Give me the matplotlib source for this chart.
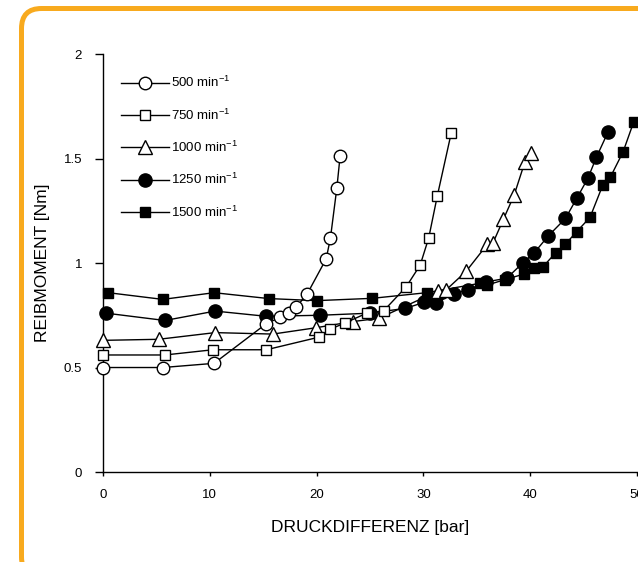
# reibmoment.py
# Reibmoment ueber Druckdifferenz bei verschiedenen Drehzahlen

import matplotlib.pyplot as plt
from matplotlib.patches import FancyBboxPatch

plt.rcParams['font.family'] = ['Liberation Sans', 'DejaVu Sans']
plt.rcParams['mathtext.fontset'] = 'custom'
plt.rcParams['mathtext.rm'] = 'Liberation Sans'
plt.rcParams['mathtext.it'] = 'Liberation Sans:italic'

x_500 = [0, 5.6, 10.4, 15.3, 16.6, 17.4, 18.1, 19.1, 20.9, 21.3, 21.9, 22.2]
y_500 = [0.50, 0.50, 0.52, 0.71, 0.74, 0.76, 0.79, 0.85, 1.02, 1.12, 1.36, 1.51]

x_750 = [0, 5.8, 10.3, 15.3, 20.2, 21.3, 22.7, 24.7, 26.3, 28.4, 29.7, 30.5, 31.3, 32.6]
y_750 = [0.56, 0.56, 0.585, 0.585, 0.645, 0.684, 0.714, 0.76, 0.772, 0.887, 0.99, 1.12, 1.32, 1.62]

x_1000 = [0, 5.2, 10.5, 15.9, 19.9, 23.4, 25.8, 31.4, 32.1, 34.0, 36.0, 36.5, 37.5, 38.5, 39.5, 40.1]
y_1000 = [0.63, 0.635, 0.667, 0.66, 0.69, 0.72, 0.735, 0.866, 0.87, 0.96, 1.09, 1.094, 1.21, 1.325, 1.483, 1.525]

x_1250 = [0.3, 5.8, 10.5, 15.3, 20.3, 25.0, 28.3, 30.1, 31.2, 32.9, 34.2, 35.9, 37.8, 39.3, 40.4,
          41.7, 43.3, 44.4, 45.4, 46.2, 47.3]
y_1250 = [0.76, 0.725, 0.77, 0.745, 0.75, 0.76, 0.783, 0.812, 0.81, 0.853, 0.872, 0.91, 0.927, 1.0,
          1.05, 1.13, 1.213, 1.313, 1.405, 1.506, 1.628]

x_1500 = [0.5, 5.6, 10.4, 15.5, 20.0, 25.2, 30.3, 35.3, 36.0, 37.6, 39.4, 40.4, 41.2, 42.4, 43.3,
          44.35, 45.6, 46.8, 47.5, 48.7, 49.7]
y_1500 = [0.858, 0.826, 0.858, 0.83, 0.82, 0.831, 0.858, 0.903, 0.895, 0.92, 0.947, 0.975, 0.982,
          1.05, 1.09, 1.15, 1.218, 1.373, 1.41, 1.532, 1.676]

labels = ['500 min$^{-1}$', '750 min$^{-1}$', '1000 min$^{-1}$', '1250 min$^{-1}$', '1500 min$^{-1}$']
xticks = [0, 10, 20, 30, 40, 50]
yticks = [0, 0.5, 1, 1.5, 2]
ytick_labels = ['0', '0.5', '1', '1.5', '2']

fig = plt.figure(figsize=(6.38, 5.62), dpi=100)
ax = fig.add_axes([0.1614, 0.1601, 0.837, 0.7438])

# Orange Rahmen (rechts und unten abgeschnitten)
frame = FancyBboxPatch((0.215, -0.15), 7.0, 5.685,
                       boxstyle='round,pad=0,rounding_size=0.2',
                       transform=fig.dpi_scale_trans, facecolor='none',
                       edgecolor='#F8AA1E', linewidth=3.6, clip_on=False)
fig.patches.append(frame)

series = [
    (x_500, y_500, 'o', 'white', 9.0),
    (x_750, y_750, 's', 'white', 7.2),
    (x_1000, y_1000, '^', 'white', 10.0),
    (x_1250, y_1250, 'o', 'black', 9.5),
    (x_1500, y_1500, 's', 'black', 7.5),
]

for i, (xs, ys, m, fc, ms) in enumerate(series):
    ax.plot(xs, ys, color='black', lw=1.0, marker=m, markerfacecolor=fc,
            markeredgecolor='black', markeredgewidth=1.0, markersize=ms,
            label=labels[i], clip_on=False, zorder=10 - i)

ax.set_xlim(0, 50)
ax.set_ylim(0, 2)
ax.set_xticks(xticks)
ax.set_yticks(yticks)
ax.set_yticklabels(ytick_labels)

ax.spines['top'].set_visible(False)
ax.spines['right'].set_visible(False)
ax.spines['left'].set_linewidth(1.0)
ax.spines['bottom'].set_linewidth(1.0)
ax.tick_params(axis='y', direction='out', length=6, width=1.0, pad=9, labelsize=9.5)
ax.tick_params(axis='x', direction='out', length=3, width=1.0, pad=9, labelsize=9.5)

ax.set_xlabel('DRUCKDIFFERENZ [bar]', fontsize=12.5)
ax.set_ylabel('REIBMOMENT [Nm]', fontsize=12.5)
ax.xaxis.set_label_coords(0.5, -0.115)
ax.yaxis.set_label_coords(-0.099, 0.5)

ax.legend(loc='upper left', bbox_to_anchor=(0.1897, 0.8666),
          bbox_transform=fig.transFigure, frameon=False, fontsize=9.5,
          handlelength=3.6, handletextpad=0.2, labelspacing=1.30,
          borderpad=0, borderaxespad=0)

plt.savefig('out.png', dpi=100)
